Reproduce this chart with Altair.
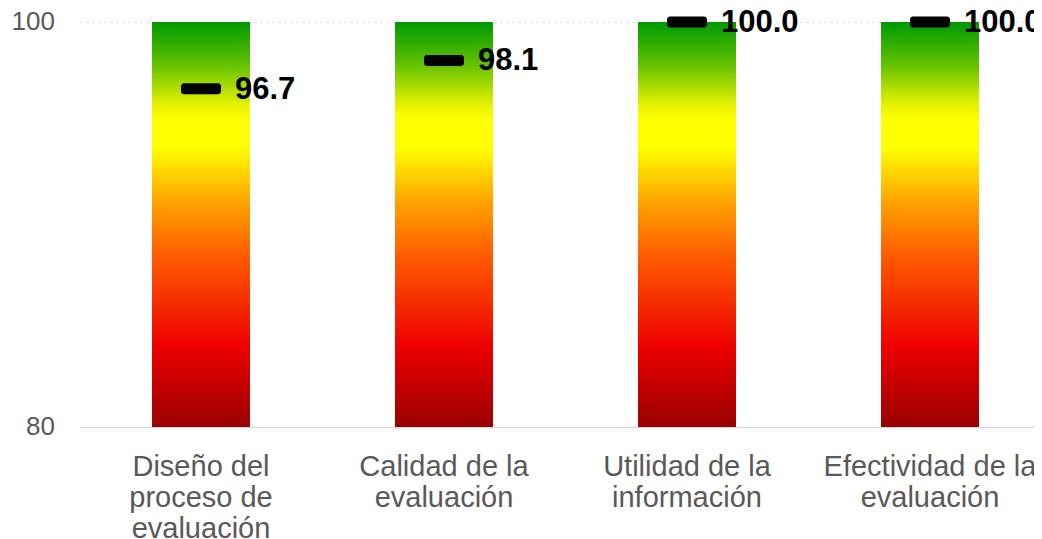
import altair as alt
import pandas as pd

categories = ["Diseño del\nproceso de\nevaluación", "Calidad de la\nevaluación",
              "Utilidad de la\ninformación", "Efectividad de la\nevaluación"]
values = [96.7, 98.1, 100.0, 100.0]
y_ticks = [80, 100]
y_min, y_max = 80, 100

df = pd.DataFrame({"cat": categories, "value": values, "idx": list(range(len(values)))})
ticks_df = pd.DataFrame({"tick": [str(t) for t in y_ticks], "pos": y_ticks})

FONT = "Liberation Sans"
GRAY = "#595959"

grad = alt.LinearGradient(
    gradient="linear",
    x1=0, x2=0, y1=0, y2=1,
    stops=[
        alt.GradientStop(color="#009900", offset=0.0),
        alt.GradientStop(color="#5cbf00", offset=0.1),
        alt.GradientStop(color="#e0f000", offset=0.2),
        alt.GradientStop(color="#ffff00", offset=0.24),
        alt.GradientStop(color="#ffff00", offset=0.31),
        alt.GradientStop(color="#ffa000", offset=0.45),
        alt.GradientStop(color="#ff5a00", offset=0.58),
        alt.GradientStop(color="#f52a00", offset=0.7),
        alt.GradientStop(color="#ee0000", offset=0.8),
        alt.GradientStop(color="#990000", offset=1.0),
    ],
)

xscale = alt.Scale(domain=[-0.5, -0.5 + 954 / 243], nice=False, zero=False)
yscale = alt.Scale(domain=[y_min, y_max], nice=False, zero=False)

xaxis = alt.Axis(labels=False, ticks=False, grid=False, title=None,
                 domain=True, domainColor="#d9d9d9", domainWidth=1.5)
yaxis = alt.Axis(values=y_ticks, title=None, ticks=False, domain=False,
                 labels=False, grid=True, gridColor="#e3e3e3", gridDash=[3, 3])

base = alt.Chart(df)

bars = base.transform_calculate(
    x0="datum.idx - 0.2016", x1="datum.idx + 0.2016", lo=str(y_min), hi=str(y_max)
).mark_rect(fill=grad).encode(
    x=alt.X("x0:Q", scale=xscale, axis=xaxis),
    x2="x1:Q",
    y=alt.Y("lo:Q", scale=yscale, axis=yaxis),
    y2="hi:Q",
)

markers = base.mark_tick(orient="horizontal", size=40, thickness=11,
                         cornerRadius=3, color="black", opacity=1).encode(
    x=alt.X("idx:Q", scale=xscale, axis=xaxis),
    y=alt.Y("value:Q", scale=yscale, axis=yaxis),
)

labels = base.mark_text(align="left", baseline="middle", dx=34, dy=1,
                        fontSize=31, fontWeight="bold", font=FONT,
                        color="black").encode(
    x=alt.X("idx:Q", scale=xscale, axis=xaxis),
    y=alt.Y("value:Q", scale=yscale, axis=yaxis),
    text=alt.Text("value:Q", format=".1f"),
)

cat_labels = base.mark_text(align="center", baseline="alphabetic", lineBreak="\n",
                            lineHeight=31, fontSize=29, font=FONT,
                            color=GRAY).encode(
    x=alt.X("idx:Q", scale=xscale, axis=xaxis),
    y=alt.value(454),
    text="cat:N",
)

y_labels = alt.Chart(ticks_df).mark_text(align="right", baseline="middle",
                                         fontSize=26, font=FONT, color=GRAY).encode(
    x=alt.value(-24.5),
    y=alt.Y("pos:Q", scale=yscale, axis=yaxis),
    text="tick:N",
)

chart = alt.layer(bars, markers, labels, cat_labels, y_labels).properties(
    width=954, height=405,
    autosize=alt.AutoSizeParams(type="none"),
    padding={"left": 71.5, "top": 14, "right": 0, "bottom": 112},
).configure(font=FONT).configure_view(stroke="transparent", strokeWidth=0)

chart.save("out.html", embed_options={"renderer": "svg", "actions": False})
